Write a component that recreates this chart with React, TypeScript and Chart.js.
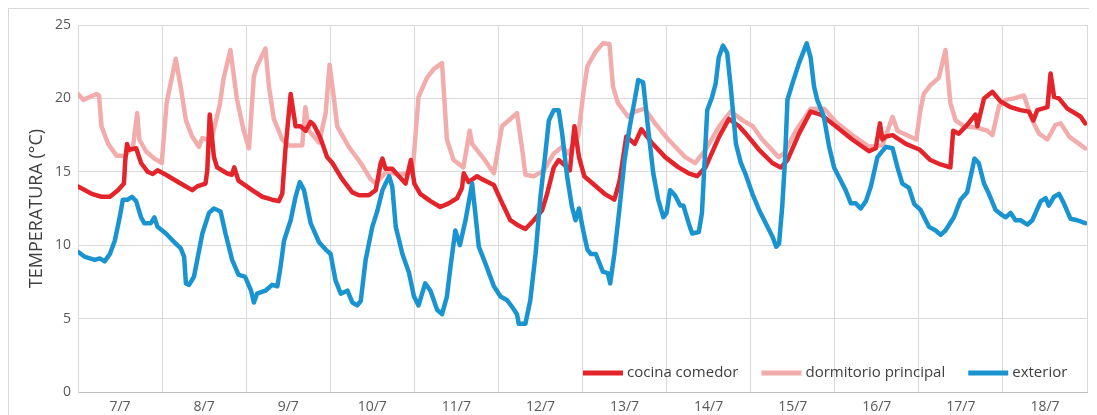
import { useEffect, useRef } from 'react';
import { Chart, registerables } from 'chart.js';

Chart.register(...registerables);

const dayLabels = ['7/7', '8/7', '9/7', '10/7', '11/7', '12/7', '13/7', '14/7', '15/7', '16/7', '17/7', '18/7'];
const yTitle = 'TEMPERATURA (°C)';
const seriesNames = ['cocina comedor', 'dormitorio principal', 'exterior'];
const seriesColors = ['#e3242b', '#f2acac', '#1a94d0'];

// hours since 7/7 00:00
const cocinaHours = [0, 3.9, 6.7, 9.1, 11.4, 13.1, 13.5, 14.0, 14.5, 16.6, 18.0, 19.9, 21.3, 22.7, 25.1, 29.3, 32.6, 34.0, 36.4, 36.9, 37.6, 38.8, 39.7, 42.5, 43.9, 44.6, 45.8, 49.7, 52.6, 55.4, 57.3, 58.3, 59.2, 60.7, 62.1, 63.5, 65.0, 66.4, 67.3, 69.2, 71.1, 72.6, 75.4, 78.3, 80.2, 83.0, 85.0, 86.4, 86.9, 87.8, 89.7, 91.6, 93.5, 95.0, 96.0, 97.7, 100.6, 103.4, 105.8, 108.2, 109.6, 110.1, 111.5, 113.9, 115.3, 118.7, 120.6, 123.4, 125.3, 127.7, 130.1, 132.5, 133.9, 135.8, 137.2, 138.7, 140.4, 141.7, 143.0, 144.5, 147.4, 150.3, 153.1, 154.6, 156.5, 158.9, 160.8, 163.7, 167.6, 171.4, 174.3, 176.7, 179.1, 183.0, 185.8, 188.7, 190.6, 194.4, 198.2, 200.6, 202.5, 205.8, 209.1, 212.0, 216.3, 221.0, 225.8, 227.7, 228.9, 229.6, 230.6, 232.5, 236.3, 240.3, 243.3, 246.2, 249.0, 249.8, 251.4, 253.8, 256.2, 256.7, 258.6, 261.0, 263.3, 266.2, 269.0, 271.4, 272.7, 273.8, 276.7, 277.6, 278.6, 280.0, 282.4, 285.2, 286.2, 287.5];
const cocinaTemps = [14.0, 13.5, 13.3, 13.3, 13.75, 14.2, 15.8, 16.9, 16.5, 16.6, 15.6, 15.0, 14.85, 15.1, 14.8, 14.2, 13.75, 14.0, 14.2, 15.1, 18.9, 16.0, 15.3, 14.9, 14.8, 15.3, 14.4, 13.75, 13.3, 13.1, 13.0, 13.5, 16.5, 20.3, 18.1, 18.1, 17.8, 18.4, 18.2, 17.3, 16.0, 15.6, 14.5, 13.6, 13.4, 13.4, 13.75, 15.6, 15.9, 15.2, 15.2, 14.7, 14.2, 15.8, 14.2, 13.5, 13.0, 12.6, 12.85, 13.2, 13.9, 14.9, 14.3, 14.7, 14.5, 14.1, 13.1, 11.7, 11.4, 11.1, 11.7, 12.4, 13.5, 15.3, 15.8, 15.5, 15.1, 18.1, 16.0, 14.7, 14.1, 13.5, 13.1, 14.4, 17.4, 16.9, 17.9, 17.0, 16.0, 15.3, 14.9, 14.7, 15.3, 17.4, 18.6, 18.1, 17.6, 16.5, 15.6, 15.3, 15.8, 17.6, 19.1, 18.9, 18.1, 17.2, 16.4, 16.6, 18.3, 17.2, 17.4, 17.5, 16.9, 16.5, 15.8, 15.5, 15.3, 17.8, 17.6, 18.2, 18.9, 18.1, 20.0, 20.45, 19.8, 19.4, 19.2, 19.1, 18.5, 19.2, 19.4, 21.7, 20.1, 20.0, 19.3, 18.9, 18.75, 18.3];

const dormitorioHours = [0, 1.5, 5.3, 6.0, 6.7, 8.6, 11.0, 13.3, 15.7, 16.9, 17.5, 19.4, 21.8, 23.9, 25.3, 27.9, 29.3, 30.8, 32.6, 34.5, 35.5, 38.0, 40.5, 41.5, 43.5, 45.4, 47.3, 48.8, 50.2, 51.1, 53.5, 54.5, 55.9, 58.3, 60.2, 64.0, 64.9, 65.9, 68.8, 70.7, 71.8, 73.0, 74.0, 77.3, 80.7, 83.5, 85.0, 88.0, 92.0, 95.5, 96.3, 97.2, 99.6, 101.5, 103.9, 105.3, 107.2, 110.0, 111.8, 112.5, 115.8, 118.7, 121.0, 123.4, 125.3, 126.8, 127.7, 130.1, 133.0, 135.8, 138.2, 140.0, 142.8, 144.3, 145.4, 147.8, 149.8, 151.7, 152.7, 154.1, 157.0, 158.9, 161.8, 164.7, 168.5, 173.3, 176.2, 179.1, 183.0, 186.3, 189.7, 192.6, 195.3, 200.0, 201.5, 204.9, 209.1, 213.0, 216.3, 221.0, 225.8, 229.6, 232.5, 233.9, 239.3, 240.3, 241.4, 243.3, 245.7, 247.6, 249.0, 250.5, 252.9, 256.7, 259.5, 261.0, 262.9, 264.8, 267.1, 270.0, 272.4, 274.3, 276.7, 279.0, 280.5, 282.9, 287.5];
const dormitorioTemps = [20.3, 19.9, 20.3, 20.2, 18.1, 16.9, 16.1, 16.1, 16.7, 19.0, 17.2, 16.4, 15.9, 15.6, 19.7, 22.7, 20.8, 18.5, 17.4, 16.7, 17.3, 17.1, 19.6, 21.3, 23.3, 19.9, 17.8, 16.6, 21.5, 22.2, 23.4, 20.8, 18.6, 17.2, 16.8, 16.8, 19.4, 17.8, 17.0, 19.0, 22.3, 20.1, 18.1, 16.7, 15.6, 14.5, 14.2, 15.0, 14.8, 15.0, 17.4, 20.1, 21.4, 22.0, 22.4, 17.2, 15.8, 15.3, 17.8, 16.9, 15.9, 14.9, 18.1, 18.6, 19.0, 16.5, 14.8, 14.7, 15.1, 16.25, 16.7, 16.25, 17.5, 20.5, 22.2, 23.2, 23.75, 23.7, 20.8, 19.7, 18.75, 19.1, 19.3, 18.3, 17.2, 16.0, 15.6, 16.5, 18.1, 19.1, 18.5, 18.1, 17.2, 16.0, 16.25, 17.8, 19.3, 19.3, 18.4, 17.5, 16.7, 16.8, 18.75, 17.8, 17.2, 19.0, 20.3, 20.9, 21.4, 23.3, 19.7, 18.5, 18.1, 18.0, 17.8, 17.5, 19.5, 19.9, 20.0, 20.2, 18.5, 17.6, 17.2, 18.2, 18.3, 17.4, 16.6];

const exteriorHours = [0, 2.0, 4.8, 6.2, 7.6, 9.1, 10.5, 11.9, 12.8, 14.2, 15.4, 16.6, 18.0, 18.9, 20.8, 21.8, 22.7, 25.1, 27.5, 29.3, 30.3, 30.8, 31.7, 33.1, 35.5, 37.4, 38.8, 40.7, 42.1, 44.0, 45.8, 47.7, 49.4, 50.2, 51.1, 53.5, 55.4, 56.9, 57.8, 58.8, 60.7, 62.1, 63.3, 64.5, 66.4, 68.8, 70.7, 72.1, 73.5, 75.0, 76.9, 78.3, 79.7, 80.7, 82.1, 84.0, 85.4, 86.9, 88.8, 89.7, 90.7, 92.6, 94.5, 95.9, 97.2, 99.1, 100.6, 102.5, 103.9, 105.3, 106.3, 107.7, 109.0, 110.6, 112.5, 113.4, 114.4, 116.3, 118.7, 120.6, 122.5, 123.9, 125.3, 125.8, 127.7, 129.1, 130.6, 132.0, 133.4, 134.4, 135.8, 137.2, 138.2, 139.6, 141.0, 142.0, 143.0, 144.2, 145.4, 146.4, 147.8, 149.8, 151.2, 151.9, 153.1, 154.6, 156.0, 157.5, 158.9, 159.9, 161.3, 162.8, 164.2, 165.6, 167.1, 168.0, 169.0, 170.4, 171.9, 172.8, 174.3, 175.3, 177.2, 178.1, 179.6, 181.0, 182.0, 182.9, 184.1, 185.3, 186.3, 187.8, 189.2, 190.6, 192.5, 194.4, 196.3, 198.2, 199.3, 200.1, 201.0, 201.8, 202.5, 203.9, 205.8, 208.0, 209.1, 210.1, 211.0, 212.9, 214.4, 215.8, 217.7, 219.1, 220.6, 222.0, 223.4, 224.9, 226.3, 228.2, 230.6, 232.5, 233.9, 235.3, 237.2, 238.7, 240.5, 242.9, 244.8, 246.2, 247.6, 250.0, 251.9, 253.8, 254.8, 255.9, 257.1, 258.6, 260.0, 261.9, 263.8, 264.8, 266.2, 267.6, 269.0, 271.0, 272.4, 274.8, 276.2, 277.1, 278.6, 280.0, 281.4, 283.3, 285.2, 287.5];
const exteriorTemps = [9.55, 9.2, 9.0, 9.1, 8.9, 9.4, 10.3, 11.9, 13.1, 13.1, 13.3, 13.0, 11.9, 11.5, 11.5, 11.9, 11.25, 10.8, 10.2, 9.8, 9.2, 7.4, 7.3, 7.85, 10.8, 12.2, 12.5, 12.3, 10.8, 9.0, 8.0, 7.85, 6.9, 6.1, 6.7, 6.9, 7.3, 7.2, 8.5, 10.3, 11.7, 13.3, 14.3, 13.75, 11.5, 10.2, 9.7, 9.4, 7.6, 6.7, 6.9, 6.1, 5.9, 6.2, 9.0, 11.25, 12.3, 13.75, 14.7, 14.0, 11.25, 9.4, 8.1, 6.5, 5.9, 7.4, 6.9, 5.6, 5.3, 6.5, 8.5, 11.0, 10.0, 11.7, 14.2, 12.2, 9.9, 8.75, 7.2, 6.5, 6.25, 5.8, 5.3, 4.65, 4.65, 6.25, 9.4, 13.3, 16.25, 18.5, 19.2, 19.2, 17.6, 14.7, 12.6, 11.7, 12.5, 11.0, 9.7, 9.4, 9.4, 8.2, 8.1, 7.4, 9.4, 12.6, 15.8, 18.1, 19.9, 21.25, 21.1, 17.8, 14.9, 13.1, 11.9, 12.2, 13.75, 13.4, 12.7, 12.7, 11.5, 10.8, 10.9, 12.2, 19.2, 20.1, 21.0, 22.8, 23.6, 23.1, 20.8, 16.9, 15.6, 14.8, 13.5, 12.4, 11.5, 10.6, 9.9, 10.1, 12.6, 15.8, 19.9, 21.0, 22.4, 23.75, 22.8, 20.8, 19.9, 18.75, 16.7, 15.3, 14.4, 13.75, 12.85, 12.85, 12.5, 13.0, 14.0, 16.0, 16.7, 16.6, 15.3, 14.2, 13.9, 12.8, 12.4, 11.25, 11.0, 10.7, 11.0, 11.9, 13.1, 13.6, 14.7, 15.9, 15.6, 14.2, 13.5, 12.4, 12.05, 11.9, 12.2, 11.7, 11.7, 11.4, 11.7, 13.0, 13.2, 12.7, 13.3, 13.5, 12.85, 11.8, 11.7, 11.5];

const FONT = '"Open Sans", "DejaVu Sans", sans-serif';

const toPoints = (hours: number[], temps: number[]) => hours.map((h, i) => ({ x: h, y: temps[i] }));

const insideLegend = {
  id: 'insideLegend',
  afterDraw(chart: any) {
    const { ctx, chartArea } = chart;
    ctx.save();
    ctx.font = `15px ${FONT}`;
    ctx.textBaseline = 'middle';
    ctx.textAlign = 'left';
    const y = chartArea.bottom - 19;
    let x = chartArea.left + 505;
    const ds = chart.data.datasets;
    [0, 1, 2].forEach((i) => {
      const d = ds[i];
      ctx.strokeStyle = d.borderColor;
      ctx.lineWidth = 5;
      ctx.lineCap = 'butt';
      ctx.beginPath();
      ctx.moveTo(x, y);
      ctx.lineTo(x + 40, y);
      ctx.stroke();
      ctx.fillStyle = '#404040';
      ctx.fillText(d.label, x + 44, y);
      x += 44 + ctx.measureText(d.label).width + 23;
    });
    ctx.restore();
  },
};

export default function App() {
  const ref = useRef<HTMLCanvasElement | null>(null);

  useEffect(() => {
    if (!ref.current) return;
    Chart.defaults.font.family = FONT;
    const chart = new Chart(ref.current, {
      type: 'line',
      data: {
        datasets: [
          {
            label: seriesNames[0],
            data: toPoints(cocinaHours, cocinaTemps),
            borderColor: seriesColors[0],
            backgroundColor: seriesColors[0],
            order: 1,
          },
          {
            label: seriesNames[1],
            data: toPoints(dormitorioHours, dormitorioTemps),
            borderColor: seriesColors[1],
            backgroundColor: seriesColors[1],
            order: 2,
          },
          {
            label: seriesNames[2],
            data: toPoints(exteriorHours, exteriorTemps),
            borderColor: seriesColors[2],
            backgroundColor: seriesColors[2],
            order: 0,
          },
        ],
      },
      options: {
        animation: false,
        responsive: true,
        maintainAspectRatio: false,
        layout: { padding: { top: 16, right: 10, left: 0, bottom: 0 } },
        elements: {
          line: { borderWidth: 4.5, tension: 0, borderJoinStyle: 'round', borderCapStyle: 'round', fill: false },
          point: { radius: 0, hoverRadius: 0 },
        },
        plugins: { legend: { display: false }, tooltip: { enabled: false } },
        scales: {
          x: {
            type: 'linear',
            min: 0,
            max: dayLabels.length * 24,
            afterBuildTicks: (s: any) => {
              s.ticks = Array.from({ length: dayLabels.length * 2 + 1 }, (_, i) => ({ value: i * 12 }));
            },
            afterFit: (s: any) => {
              s.height = 23;
            },
            grid: {
              color: (c: any) => (c.tick && c.tick.value % 24 === 0 ? '#d9d9d9' : 'rgba(0,0,0,0)'),
              drawTicks: false,
            },
            border: { color: '#bfbfbf' },
            ticks: {
              autoSkip: false,
              maxRotation: 0,
              padding: 7,
              color: '#595959',
              font: { size: 14 },
              callback: (v: any) => (Number(v) % 24 === 12 ? dayLabels[(Number(v) - 12) / 24] : ''),
            },
          },
          y: {
            min: 0,
            max: 25,
            afterFit: (s: any) => {
              s.width = 69;
            },
            grid: { color: '#d9d9d9', drawTicks: false },
            border: { color: '#d9d9d9' },
            ticks: { stepSize: 5, padding: 7, color: '#595959', font: { size: 14 } },
            title: {
              display: true,
              text: yTitle,
              color: '#404040',
              font: { size: 18 },
              padding: { top: 17, bottom: 0 },
            },
          },
        },
      },
      plugins: [insideLegend],
    });
    return () => chart.destroy();
  }, []);

  return (
    <div
      style={{
        position: 'relative',
        width: 1089,
        height: 407,
        borderTop: '1px solid #d9d9d9',
        borderLeft: '1px solid #d9d9d9',
        boxSizing: 'border-box',
      }}
    >
      <canvas ref={ref} />
    </div>
  );
}
